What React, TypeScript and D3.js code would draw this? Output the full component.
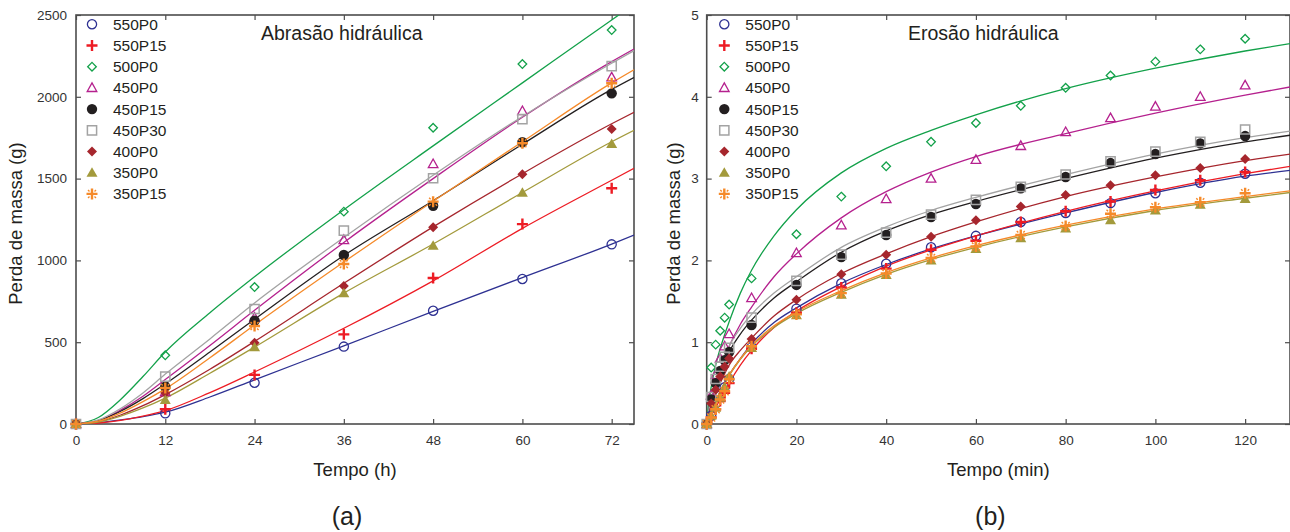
import React, { useEffect, useRef } from 'react';
import * as d3 from 'd3';

// series (same order in both panels)
const seriesNames = ['550P0', '550P15', '500P0', '450P0', '450P15', '450P30', '400P0', '350P0', '350P15'];
const seriesColors = ['#2e3192', '#ed1c24', '#13a14a', '#b5218e', '#231f20', '#a3a3a3', '#a6262d', '#a39a3c', '#f58a2a'];
const markerKinds = ['circle', 'plus', 'diamond', 'triangle', 'dot', 'square', 'diamondFill', 'triangleFill', 'asterisk'];

// (a) Abrasão hidráulica — measured points
const abrTime = [0, 12, 24, 36, 48, 60, 72];
const abr550P0 = [0, 65, 252, 473, 692, 886, 1098];
const abr550P15 = [0, 90, 300, 548, 892, 1222, 1441];
const abr500P0 = [0, 420, 837, 1298, 1811, 2200, 2408];
const abr450P0 = [0, 195, 650, 1125, 1589, 1913, 2119];
const abr450P15 = [0, 228, 631, 1033, 1334, 1722, 2021];
const abr450P30 = [0, 289, 703, 1182, 1502, 1864, 2188];
const abr400P0 = [0, 190, 497, 843, 1202, 1526, 1803];
const abr350P0 = [0, 147, 469, 799, 1090, 1414, 1711];
const abr350P15 = [0, 220, 599, 978, 1359, 1716, 2083];

// (a) fitted curves
const abrFitTime = [0, 3, 6, 9, 12, 18, 24, 36, 48, 60, 72, 75];
const abrFit550P0 = [0, 8, 25, 45, 72, 165, 270, 478, 688, 895, 1100, 1155];
const abrFit550P15 = [0, 6, 22, 48, 82, 192, 318, 585, 875, 1196, 1490, 1563];
const abrFit500P0 = [0, 40, 150, 290, 440, 680, 900, 1310, 1700, 2085, 2470, 2565];
const abrFit450P0 = [0, 20, 85, 170, 272, 480, 695, 1110, 1500, 1875, 2215, 2292];
const abrFit450P15 = [0, 20, 78, 155, 245, 440, 640, 1030, 1365, 1710, 2045, 2118];
const abrFit450P30 = [0, 25, 95, 190, 305, 520, 740, 1140, 1520, 1880, 2205, 2282];
const abrFit400P0 = [0, 14, 55, 112, 180, 335, 505, 860, 1205, 1530, 1835, 1905];
const abrFit350P0 = [0, 12, 48, 98, 158, 310, 470, 800, 1100, 1415, 1725, 1795];
const abrFit350P15 = [0, 17, 68, 137, 215, 405, 605, 990, 1362, 1725, 2085, 2165];

// (b) Erosão hidráulica — measured points
const eroTime = [0, 1, 2, 3, 4, 5, 10, 20, 30, 40, 50, 60, 70, 80, 90, 100, 110, 120];
const ero550P0 = [0, 0.1, 0.25, 0.35, 0.45, 0.55, 0.94, 1.41, 1.72, 1.96, 2.16, 2.30, 2.47, 2.58, 2.70, 2.82, 2.95, 3.06];
const ero550P15 = [0, 0.08, 0.18, 0.28, 0.38, 0.5, 0.92, 1.36, 1.67, 1.90, 2.13, 2.24, 2.47, 2.60, 2.72, 2.86, 2.98, 3.08];
const ero500P0 = [0, 0.69, 0.97, 1.14, 1.30, 1.46, 1.78, 2.32, 2.78, 3.15, 3.45, 3.68, 3.89, 4.11, 4.26, 4.43, 4.58, 4.71];
const ero450P0 = [0, 0.35, 0.6, 0.8, 0.95, 1.10, 1.54, 2.09, 2.43, 2.75, 3.0, 3.23, 3.40, 3.57, 3.74, 3.88, 4.00, 4.14];
const ero450P15 = [0, 0.3, 0.5, 0.65, 0.78, 0.88, 1.21, 1.70, 2.04, 2.31, 2.53, 2.69, 2.88, 3.02, 3.19, 3.30, 3.43, 3.52];
const ero450P30 = [0, 0.33, 0.55, 0.7, 0.82, 0.93, 1.30, 1.75, 2.07, 2.34, 2.56, 2.74, 2.90, 3.05, 3.21, 3.33, 3.45, 3.60];
const ero400P0 = [0, 0.25, 0.42, 0.58, 0.7, 0.8, 1.04, 1.52, 1.83, 2.07, 2.29, 2.49, 2.66, 2.80, 2.92, 3.04, 3.13, 3.24];
const ero350P0 = [0, 0.1, 0.2, 0.32, 0.45, 0.58, 0.93, 1.33, 1.58, 1.82, 2.00, 2.14, 2.27, 2.39, 2.49, 2.61, 2.68, 2.75];
const ero350P15 = [0, 0.08, 0.18, 0.3, 0.4, 0.55, 0.95, 1.34, 1.60, 1.84, 2.03, 2.17, 2.31, 2.42, 2.57, 2.65, 2.71, 2.82];

// (b) fitted curves
const eroFitTime = [0, 0.5, 1, 2, 3, 5, 7.5, 10, 15, 20, 30, 40, 50, 60, 80, 100, 120, 130];
const eroFit550P0 = [0, 0.08, 0.15, 0.28, 0.4, 0.6, 0.8, 0.98, 1.24, 1.42, 1.72, 1.95, 2.14, 2.3, 2.58, 2.83, 3.03, 3.1];
const eroFit550P15 = [0, 0.05, 0.1, 0.2, 0.3, 0.5, 0.72, 0.9, 1.18, 1.38, 1.68, 1.93, 2.13, 2.3, 2.6, 2.85, 3.06, 3.15];
const eroFit500P0 = [0, 0.28, 0.45, 0.72, 0.92, 1.25, 1.6, 1.88, 2.3, 2.62, 3.07, 3.37, 3.59, 3.78, 4.1, 4.35, 4.56, 4.65];
const eroFit450P0 = [0, 0.18, 0.3, 0.5, 0.67, 0.95, 1.22, 1.43, 1.8, 2.08, 2.52, 2.84, 3.08, 3.27, 3.55, 3.8, 4.02, 4.12];
const eroFit450P15 = [0, 0.17, 0.28, 0.47, 0.62, 0.88, 1.1, 1.27, 1.54, 1.74, 2.1, 2.36, 2.56, 2.72, 3.0, 3.25, 3.45, 3.53];
const eroFit450P30 = [0, 0.18, 0.3, 0.5, 0.66, 0.95, 1.17, 1.34, 1.6, 1.8, 2.16, 2.41, 2.61, 2.77, 3.05, 3.3, 3.5, 3.58];
const eroFit400P0 = [0, 0.13, 0.22, 0.38, 0.5, 0.72, 0.9, 1.05, 1.32, 1.52, 1.84, 2.08, 2.29, 2.47, 2.78, 3.02, 3.22, 3.3];
const eroFit350P0 = [0, 0.08, 0.15, 0.27, 0.39, 0.59, 0.79, 0.95, 1.18, 1.35, 1.61, 1.83, 2.01, 2.16, 2.41, 2.61, 2.76, 2.83];
const eroFit350P15 = [0, 0.08, 0.15, 0.28, 0.4, 0.6, 0.8, 0.96, 1.2, 1.37, 1.63, 1.85, 2.03, 2.18, 2.43, 2.63, 2.78, 2.85];

// ticks
const abrTicksX = [0, 12, 24, 36, 48, 60, 72];
const abrTicksY = [0, 500, 1000, 1500, 2000, 2500];
const eroTicksX = [0, 20, 40, 60, 80, 100, 120];
const eroTicksY = [0, 1, 2, 3, 4, 5];

const FONT = '"Liberation Sans", Arial, sans-serif';
const AXIS_COLOR = '#4d4d4d';

function drawMarker(g: any, kind: string, color: string) {
    if (kind === 'circle') {
        g.append('circle').attr('r', 4.6).attr('fill', 'none').attr('stroke', color).attr('stroke-width', 1.3);
    } else if (kind === 'plus') {
        g.append('path').attr('d', 'M-5.5,0H5.5M0,-5.5V5.5').attr('stroke', color).attr('stroke-width', 2.4).attr('fill', 'none');
    } else if (kind === 'diamond') {
        g.append('path').attr('d', 'M0,-4.3L4.3,0L0,4.3L-4.3,0Z').attr('fill', 'none').attr('stroke', color).attr('stroke-width', 1.3);
    } else if (kind === 'triangle') {
        g.append('path').attr('d', 'M0,-5L4.8,3.6L-4.8,3.6Z').attr('fill', 'none').attr('stroke', color).attr('stroke-width', 1.3);
    } else if (kind === 'dot') {
        g.append('circle').attr('r', 5.2).attr('fill', color);
    } else if (kind === 'square') {
        g.append('path').attr('d', 'M-4.6,-4.6h9.2v9.2h-9.2Z').attr('fill', 'none').attr('stroke', color).attr('stroke-width', 1.5);
    } else if (kind === 'diamondFill') {
        g.append('path').attr('d', 'M0,-5L5,0L0,5L-5,0Z').attr('fill', color);
    } else if (kind === 'triangleFill') {
        g.append('path').attr('d', 'M0,-5.5L5.5,4L-5.5,4Z').attr('fill', color);
    } else if (kind === 'asterisk') {
        g.append('path').attr('d', 'M-5.5,0H5.5M0,-5.5V5.5').attr('stroke', color).attr('stroke-width', 2.4).attr('fill', 'none');
        g.append('path').attr('d', 'M-4,-4L-2.5,-2.5M4,-4L2.5,-2.5M-4,4L-2.5,2.5M4,4L2.5,2.5').attr('stroke', color).attr('stroke-width', 1.4).attr('fill', 'none');
    }
}

interface Panel {
    id: string;
    left: number; right: number; top: number; bottom: number;
    xMax: number; yMax: number;
    ticksX: number[]; ticksY: number[];
    time: number[]; values: number[][];
    fitTime: number[]; fits: number[][];
    title: string; titleX: number;
    xTitle: string; yTitleX: number;
    tag: string;
    legendX: number;
    yLabelPad: number;
}

function drawPanel(svg: any, p: Panel) {
    const x = d3.scaleLinear().domain([0, p.xMax]).range([p.left, p.right]);
    const y = d3.scaleLinear().domain([0, p.yMax]).range([p.bottom, p.top]);

    svg.append('clipPath').attr('id', 'clip-' + p.id)
        .append('rect')
        .attr('x', p.left).attr('y', p.top)
        .attr('width', p.right - p.left).attr('height', p.bottom - p.top);

    // axes, ticks pointing in
    const styleAxis = (g: any) => {
        g.select('.domain').remove();
        g.selectAll('line').attr('stroke', AXIS_COLOR).attr('stroke-width', 1.2);
        g.selectAll('text').attr('font-family', FONT).attr('font-size', 13.5).attr('fill', '#333');
    };
    const plain = (d: any) => String(d);
    svg.append('g').attr('transform', `translate(0,${p.bottom})`)
        .call(d3.axisBottom(x).tickValues(p.ticksX).tickSizeInner(-5).tickSizeOuter(0).tickPadding(11).tickFormat(plain))
        .call(styleAxis);
    svg.append('g').attr('transform', `translate(0,${p.top})`)
        .call(d3.axisTop(x).tickValues(p.ticksX).tickSizeInner(-5).tickSizeOuter(0).tickFormat(() => ''))
        .call(styleAxis);
    svg.append('g').attr('transform', `translate(${p.left},0)`)
        .call(d3.axisLeft(y).tickValues(p.ticksY).tickSizeInner(-5).tickSizeOuter(0).tickPadding(p.yLabelPad).tickFormat(plain))
        .call(styleAxis);
    svg.append('g').attr('transform', `translate(${p.right},0)`)
        .call(d3.axisRight(y).tickValues(p.ticksY).tickSizeInner(-5).tickSizeOuter(0).tickFormat(() => ''))
        .call(styleAxis);

    // frame
    svg.append('rect')
        .attr('x', p.left).attr('y', p.top)
        .attr('width', p.right - p.left).attr('height', p.bottom - p.top)
        .attr('fill', 'none').attr('stroke', AXIS_COLOR).attr('stroke-width', 1.6);

    // fitted curves
    const curves = svg.append('g').attr('clip-path', `url(#clip-${p.id})`);
    p.fits.forEach((fit, s) => {
        const line = d3.line<number>()
            .x((d, i) => x(p.fitTime[i]))
            .y((d) => y(d))
            .curve(d3.curveMonotoneX);
        curves.append('path')
            .datum(fit)
            .attr('fill', 'none')
            .attr('stroke', seriesColors[s])
            .attr('stroke-width', 1.3)
            .attr('d', line);
    });

    // measured points
    p.values.forEach((vals, s) => {
        const grp = svg.append('g');
        vals.forEach((v, i) => {
            const m = grp.append('g').attr('transform', `translate(${x(p.time[i])},${y(v)})`);
            drawMarker(m, markerKinds[s], seriesColors[s]);
        });
    });

    // legend
    seriesNames.forEach((name, s) => {
        const ly = 24.3 + s * 21.2;
        const m = svg.append('g').attr('transform', `translate(${p.legendX},${ly})`);
        drawMarker(m, markerKinds[s], seriesColors[s]);
        svg.append('text')
            .attr('x', p.legendX + 21).attr('y', ly).attr('dy', '0.36em')
            .attr('font-family', FONT).attr('font-size', 15.5).attr('fill', '#231f20')
            .text(name);
    });

    // titles
    svg.append('text')
        .attr('x', p.titleX).attr('y', 40)
        .attr('font-family', FONT).attr('font-size', 19.5).attr('fill', '#231f20')
        .text(p.title);
    svg.append('text')
        .attr('x', (p.left + p.right) / 2).attr('y', 476)
        .attr('text-anchor', 'middle')
        .attr('font-family', FONT).attr('font-size', 18.5).attr('fill', '#231f20')
        .text(p.xTitle);
    svg.append('text')
        .attr('transform', `translate(${p.yTitleX},${(p.top + p.bottom) / 2 + 4}) rotate(-90)`)
        .attr('text-anchor', 'middle')
        .attr('font-family', FONT).attr('font-size', 18.5).attr('fill', '#231f20')
        .text('Perda de massa (g)');
    svg.append('text')
        .attr('x', (p.left + p.right) / 2 - 8).attr('y', 525)
        .attr('text-anchor', 'middle')
        .attr('font-family', FONT).attr('font-size', 25).attr('fill', '#231f20')
        .text(p.tag);
}

export default function App() {
    const ref = useRef<SVGSVGElement>(null);

    useEffect(() => {
        const svg = d3.select(ref.current);
        svg.selectAll('*').remove();

        drawPanel(svg, {
            id: 'a', left: 76, right: 634, top: 15, bottom: 424,
            xMax: 75, yMax: 2500,
            ticksX: abrTicksX, ticksY: abrTicksY,
            time: abrTime,
            values: [abr550P0, abr550P15, abr500P0, abr450P0, abr450P15, abr450P30, abr400P0, abr350P0, abr350P15],
            fitTime: abrFitTime,
            fits: [abrFit550P0, abrFit550P15, abrFit500P0, abrFit450P0, abrFit450P15, abrFit450P30, abrFit400P0, abrFit350P0, abrFit350P15],
            title: 'Abrasão hidráulica', titleX: 261,
            xTitle: 'Tempo (h)', yTitleX: 22,
            tag: '(a)', legendX: 92, yLabelPad: 9,
        });

        drawPanel(svg, {
            id: 'b', left: 706.7, right: 1290, top: 15, bottom: 424,
            xMax: 130, yMax: 5,
            ticksX: eroTicksX, ticksY: eroTicksY,
            time: eroTime,
            values: [ero550P0, ero550P15, ero500P0, ero450P0, ero450P15, ero450P30, ero400P0, ero350P0, ero350P15],
            fitTime: eroFitTime,
            fits: [eroFit550P0, eroFit550P15, eroFit500P0, eroFit450P0, eroFit450P15, eroFit450P30, eroFit400P0, eroFit350P0, eroFit350P15],
            title: 'Erosão hidráulica', titleX: 908,
            xTitle: 'Tempo (min)', yTitleX: 680,
            tag: '(b)', legendX: 724.3, yLabelPad: 8,
        });
    }, []);

    return (
        <svg
            ref={ref}
            width={1290}
            height={532}
            style={{ position: 'absolute', left: 0, top: 0, display: 'block', background: '#fff' }}
        />
    );
}
